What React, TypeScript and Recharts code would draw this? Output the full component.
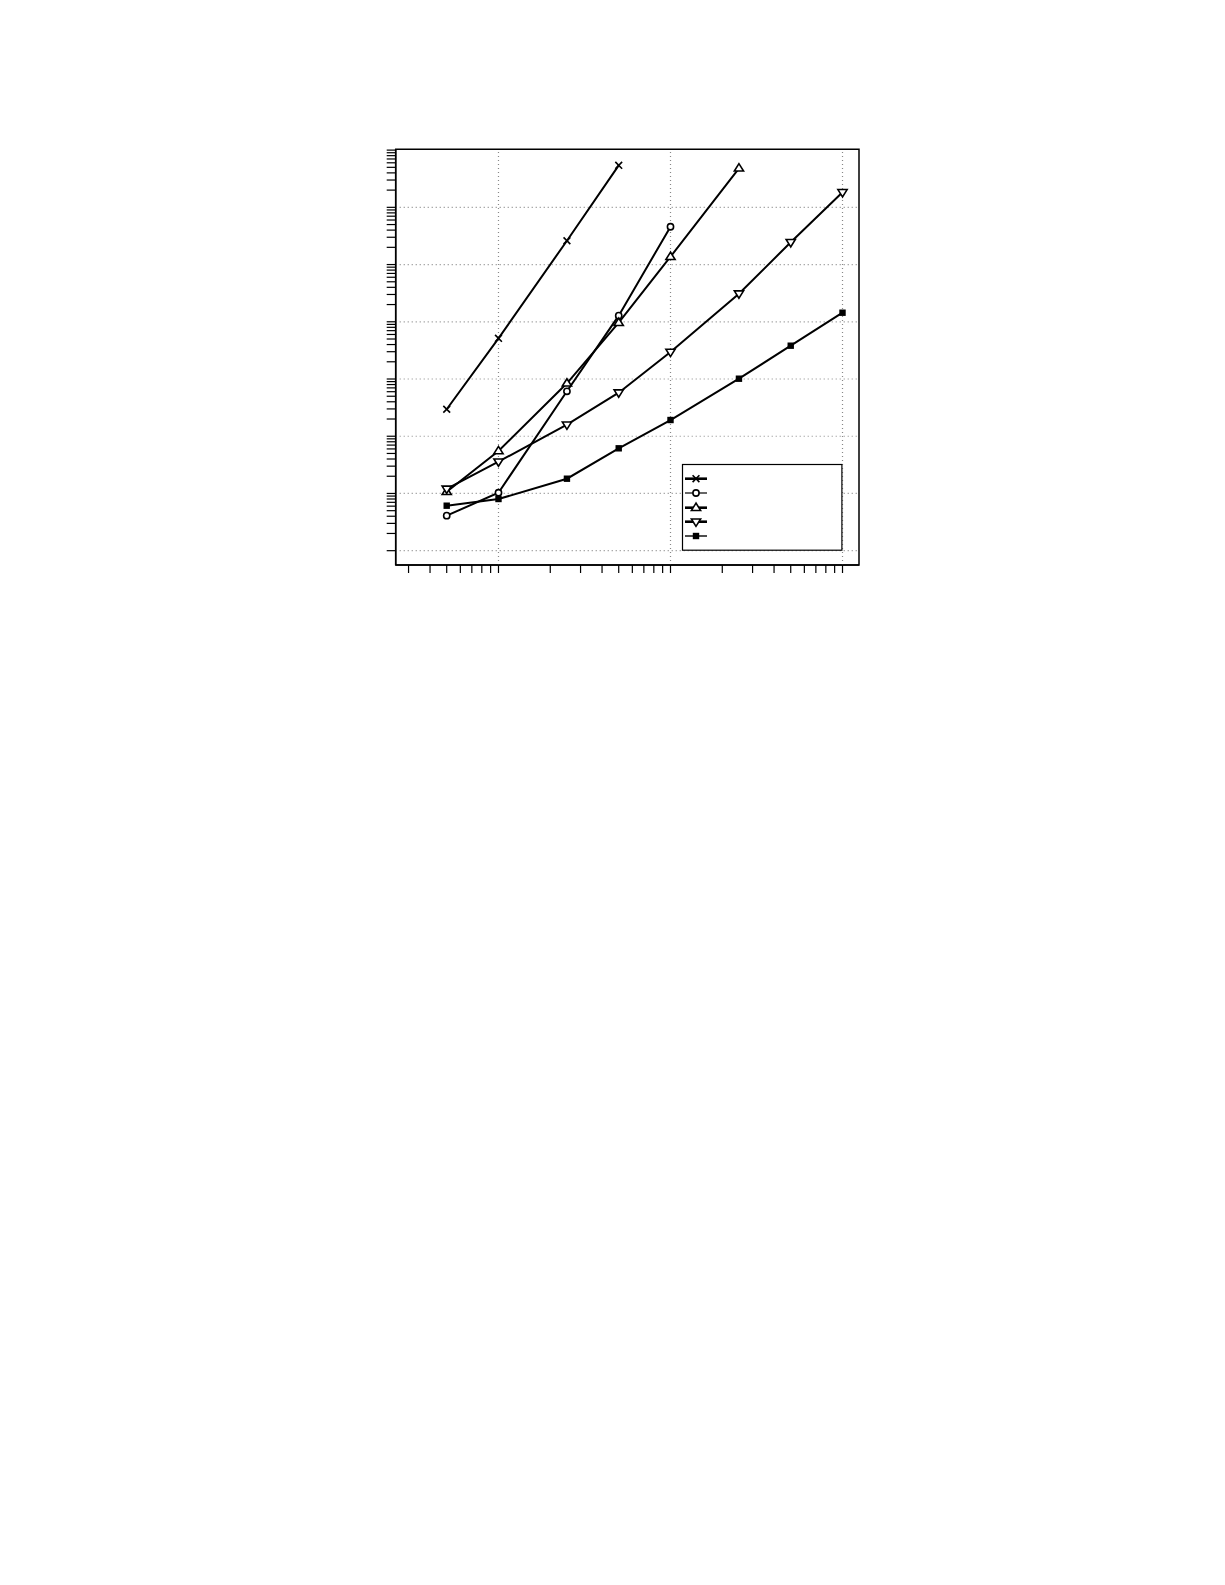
import { LineChart, Line, XAxis, YAxis, ReferenceLine, ReferenceArea, Legend } from 'recharts'

// values (log-log plot, no labels)
const xValues = [5, 10, 25, 50, 100, 250, 500, 1000]
const crossSeries = [296, 5140, 261000, 5420000]
const circleSeries = [4.09, 10.3, 610, 12800, 458000]
const triUpSeries = [10.7, 55.2, 841, 9640, 137000, 4810000]
const triDownSeries = [12.0, 35.9, 159, 577, 2965, 31000, 245000, 1830000]
const squareSeries = [6.11, 8.0, 18.1, 61.5, 192, 1012, 3820, 14400]

const xTicks = [3, 4, 5, 6, 7, 8, 9, 10, 20, 30, 40, 50, 60, 70, 80, 90, 100, 200, 300, 400, 500, 600, 700, 800, 900, 1000]
const yDecades = [1, 10, 100, 1000, 10000, 100000, 1000000, 10000000]
const xGrid = [10, 100, 1000]
const yGrid = [1, 10, 100, 1000, 10000, 100000, 1000000]

const xDomain = [2.526, 1247]
const yDomain = [0.562, 10330000]

const yTicks = yDecades.flatMap((d) => (d === 10000000 ? [d] : [1, 2, 3, 4, 5, 6, 7, 8, 9].map((m) => m * d)))

const series = [
  { key: 'cross', values: crossSeries, shape: 'cross', legendWidth: 2.6 },
  { key: 'circle', values: circleSeries, shape: 'circle', legendWidth: 1.2 },
  { key: 'triUp', values: triUpSeries, shape: 'triUp', legendWidth: 2.6 },
  { key: 'triDown', values: triDownSeries, shape: 'triDown', legendWidth: 2.6 },
  { key: 'square', values: squareSeries, shape: 'square', legendWidth: 1.4 },
]

const tableData = xValues.map((x, i) => {
  const row: Record<string, number | undefined> = { x }
  series.forEach((s) => {
    row[s.key] = s.values[i]
  })
  return row
})

function Marker({ cx, cy, shape }: { cx: number; cy: number; shape: string }) {
  const sw = 1.6
  if (shape === 'cross') {
    const r = 3.4
    return (
      <g stroke="#000" strokeWidth={sw}>
        <line x1={cx - r} y1={cy - r} x2={cx + r} y2={cy + r} />
        <line x1={cx - r} y1={cy + r} x2={cx + r} y2={cy - r} />
      </g>
    )
  }
  if (shape === 'circle') {
    return <circle cx={cx} cy={cy} r={3.1} fill="#fff" stroke="#000" strokeWidth={sw} />
  }
  if (shape === 'triUp') {
    const r = 4.6
    return (
      <polygon
        points={`${cx},${cy - r} ${cx - r},${cy + r * 0.6} ${cx + r},${cy + r * 0.6}`}
        fill="#fff"
        stroke="#000"
        strokeWidth={sw}
      />
    )
  }
  if (shape === 'triDown') {
    const r = 4.6
    return (
      <polygon
        points={`${cx},${cy + r} ${cx - r},${cy - r * 0.6} ${cx + r},${cy - r * 0.6}`}
        fill="#fff"
        stroke="#000"
        strokeWidth={sw}
      />
    )
  }
  return <rect x={cx - 3.2} y={cy - 3.2} width={6.4} height={6.4} fill="#000" />
}

function makeDot(shape: string) {
  return (props: any) => {
    const { cx, cy, index, value } = props
    if (cx == null || cy == null || value == null) return <g key={`${shape}-${index}`} />
    return (
      <g key={`${shape}-${index}`}>
        <Marker cx={cx} cy={cy} shape={shape} />
      </g>
    )
  }
}

const NoLabel = () => <g />

function LegendBox() {
  const rowY = [14.7, 29, 43.7, 57.7, 72]
  return (
    <svg width={161} height={88} style={{ display: 'block', overflow: 'visible' }}>
      <rect x={0.5} y={0.5} width={159.4} height={85.7} fill="#fff" stroke="#000" strokeWidth={1.2} />
      {series.map((s, i) => (
        <g key={s.key}>
          <line x1={3} y1={rowY[i]} x2={25} y2={rowY[i]} stroke="#000" strokeWidth={s.legendWidth} />
          <Marker cx={14} cy={rowY[i]} shape={s.shape} />
        </g>
      ))}
    </svg>
  )
}

export default function App() {
  return (
    <div style={{ position: 'relative', width: 880, height: 600 }}>
      <LineChart
        width={880}
        height={600}
        data={tableData}
        margin={{ top: 141.3, left: 377.7, right: 29, bottom: 33 }}
      >
        <XAxis
          dataKey="x"
          type="number"
          scale="log"
          domain={xDomain}
          allowDataOverflow
          ticks={xTicks}
          interval={0}
          tick={NoLabel}
          tickSize={8}
          height={10}
          axisLine={{ stroke: '#000', strokeWidth: 1.5 }}
          tickLine={{ stroke: '#000', strokeWidth: 1.2 }}
        />
        <YAxis
          type="number"
          scale="log"
          domain={yDomain}
          allowDataOverflow
          ticks={yTicks}
          interval={0}
          tick={NoLabel}
          tickSize={9}
          width={10}
          axisLine={{ stroke: '#000', strokeWidth: 1.5 }}
          tickLine={{ stroke: '#000', strokeWidth: 1.2 }}
        />
        {xGrid.map((v) => (
          <ReferenceLine key={`gx${v}`} x={v} stroke="#888" strokeDasharray="1 3" strokeWidth={1.2} />
        ))}
        {yGrid.map((v) => (
          <ReferenceLine key={`gy${v}`} y={v} stroke="#888" strokeDasharray="1 3" strokeWidth={1.2} />
        ))}
        <ReferenceArea
          x1={xDomain[0]}
          x2={xDomain[1]}
          y1={yDomain[0]}
          y2={yDomain[1]}
          fill="none"
          fillOpacity={0}
          stroke="#000"
          strokeWidth={1.5}
        />
        {series.map((s) => (
          <Line
            key={s.key}
            dataKey={s.key}
            stroke="#000"
            strokeWidth={2}
            dot={makeDot(s.shape)}
            activeDot={false}
            isAnimationActive={false}
          />
        ))}
        <Legend
          content={() => <LegendBox />}
          wrapperStyle={{ position: 'absolute', left: 674.3, top: 456.3, width: 0, height: 0, overflow: 'visible' }}
        />
      </LineChart>
    </div>
  )
}
